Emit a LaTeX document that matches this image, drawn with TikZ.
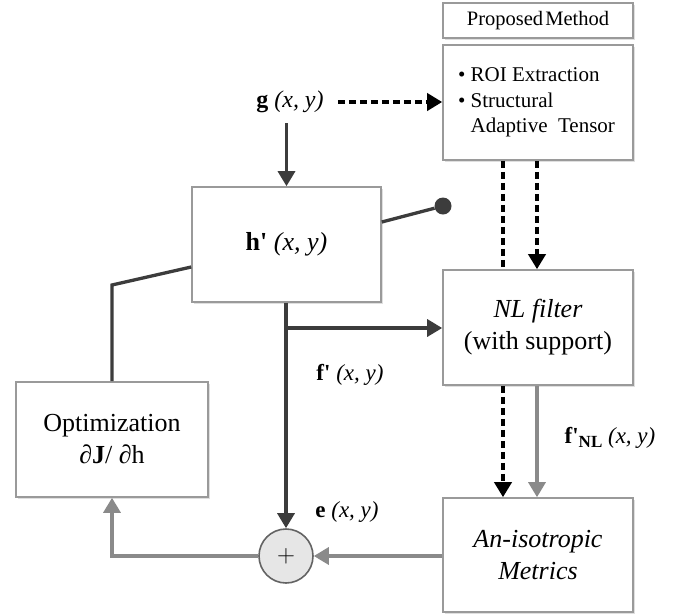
\documentclass[tikz,border=0pt]{standalone}
\usepackage{fontspec}
\setmainfont{Liberation Serif}
\usetikzlibrary{arrows.meta,shadows,calc}
\definecolor{darkc}{HTML}{3C3C3C}
\definecolor{grayc}{HTML}{8A8A8A}
\definecolor{boxc}{HTML}{9A9A9A}
\definecolor{sumfill}{HTML}{E6E6E6}
\begin{document}
\begin{tikzpicture}[x=1pt,y=-1pt,
  box/.style={draw=boxc, line width=1.6pt, fill=white, minimum width=190pt, minimum height=115pt,
    inner sep=0pt, align=center, font=\fontsize{26}{32}\selectfont,
    drop shadow={shadow xshift=2pt, shadow yshift=-2pt, fill=black!25}},
  dk/.style={draw=darkc, line width=3.3pt},
  gy/.style={draw=grayc, line width=3.2pt},
  tip/.style={-{Triangle[length=15pt,width=17pt]}},
  dsh/.style={draw=black, line width=3.6pt, dash pattern=on 7pt off 4pt},
  lbl/.style={font=\fontsize{23}{27}\selectfont, inner sep=0pt},
]
\useasboundingbox (0,0) rectangle (678,614);

% boxes
\node[box, minimum height=35pt, font=\fontsize{20.5}{24}\selectfont] (prop) at (538,20.5) {Proposed\hspace{0.1em}Method};
\node[box, minimum height=115pt, font=\fontsize{21}{25.5}\selectfont] (roi) at (538,102.5)
  {\begin{minipage}{160pt}\raggedright • ROI Extraction\\ • Structural\\ \phantom{• }Adaptive\ \ Tensor\end{minipage}};
\node[box, minimum width=189pt] (h) at (286.5,244.5) {\textbf{h\textquotesingle}\ \textit{(x, y)}};
\node[box] (nl) at (538,327.5) {\textit{NL filter}\\(with support)};
\node[box, minimum height=114pt] (an) at (538,555) {\textit{An-isotropic}\\\textit{Metrics}};
\node[box, minimum width=192pt] (opt) at (112,439.5) {Optimization\\\textit{∂}\textbf{J}/ \textit{∂}h};

\node[circle, draw=darkc!80, fill=sumfill, line width=1.6pt, minimum size=54pt, inner sep=0pt] (sum) at (286,556)
  {\fontsize{30}{30}\selectfont$+$};
\node[circle, fill=darkc, minimum size=17pt, inner sep=0pt] (dot) at (443,206) {};

% labels
\node[lbl, font=\fontsize{24}{28}\selectfont] (g) at (290,102) {\textbf{g}\ \textit{(x, y)}};
\node[lbl] (fl) at (350,375) {\textbf{f\textquotesingle}\ \textit{(x, y)}};
\node[lbl] (el) at (347,512) {\textbf{e}\ \textit{(x, y)}};
\node[lbl] (fnl) at (610,438) {\textbf{f\textquotesingle}\raisebox{-0.35ex}{\fontsize{17}{17}\selectfont\textbf{NL}}\ \textit{(x, y)}};

\coordinate (bend) at (112,285);
\coordinate (br) at (286,328);

% connectors
\draw[dk,tip,shorten <=10pt] (g.south -| h.north) -- (h.north);
\draw[dsh,tip,shorten <=14pt] (g.east) -- (roi.west |- g.east);
\draw[dk] ($(h.east)+(0,-22.5)$) -- (dot);
\draw[dk] ($(h.west)+(0,22.5)$) -- (bend) -- (opt.north);
\draw[dk,tip] (h.south -| sum.north) -- (sum.north);
\draw[dk,tip] (br) -- (nl.west |- br);
\draw[dsh] ($(roi.south)+(-35,0)$) -- ($(nl.north)+(-35,0)$);
\draw[dsh,tip] ($(roi.south)+(-1,0)$) -- ($(nl.north)+(-1,0)$);
\draw[dsh,tip] ($(nl.south)+(-35,0)$) -- ($(an.north)+(-35,0)$);
\draw[gy,tip] ($(nl.south)+(-1,0)$) -- ($(an.north)+(-1,0)$);
\draw[gy,tip] (an.west |- sum.east) -- (sum.east);
\draw[gy,tip] (sum.west) -- (sum.west -| opt.south) -- (opt.south);
\end{tikzpicture}
\end{document}
